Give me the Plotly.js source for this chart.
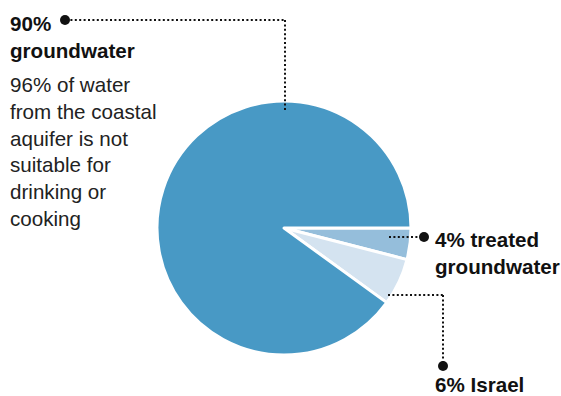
<!DOCTYPE html>
<html><head><meta charset="utf-8">
<script src="https://cdn.plot.ly/plotly-3.0.1.min.js"></script>
<style>html,body{margin:0;padding:0;background:#fff}#chart{width:561px;height:396px}</style>
</head><body><div id="chart"></div>
<script>
const labels = ["4% treated groundwater", "6% Israel", "90% groundwater"];
const values = [4, 6, 90];
const colors = ["#95bedb", "#d4e3f0", "#4899c5"];
const W = 561, H = 396;
const px = x => x / W, py = y => 1 - y / H;
const FONT = "Liberation Sans, Arial, Helvetica, sans-serif";

const trace = {
  type: "pie", labels: labels, values: values, sort: false,
  direction: "clockwise", rotation: 90,
  marker: {colors: colors, line: {color: "#ffffff", width: 3}},
  textinfo: "none", hoverinfo: "label", showlegend: false,
  domain: {x: [px(157), px(411)], y: [py(356), py(100)]}
};

const dotLine = {color: "#111", width: 2, dash: "2px,2.4px"};
function seg(x0, y0, x1, y1) {
  return {type: "line", xref: "paper", yref: "paper", x0: px(x0), y0: py(y0), x1: px(x1), y1: py(y1), line: dotLine};
}
function dot(x, y) {
  return {type: "circle", xref: "paper", yref: "paper", xsizemode: "pixel", ysizemode: "pixel",
    xanchor: px(x), yanchor: py(y), x0: -5, x1: 5, y0: -5, y1: 5,
    fillcolor: "#111", line: {width: 0}};
}
const shapes = [
  seg(66, 20, 285, 20), seg(285, 20, 285, 112), dot(65, 20),
  seg(389, 237, 423, 237), dot(424, 237),
  seg(388, 295, 443, 295), seg(443, 295, 443, 366), dot(443, 366)
];
function ann(x, y, text, bold) {
  return {xref: "paper", yref: "paper", x: px(x), y: py(y), xanchor: "left", yanchor: "top",
    align: "left", showarrow: false, text: text,
    font: {family: FONT, size: 20.6, color: "#111", weight: bold ? 700 : 400}};
}
const annotations = [
  ann(8, 10, "<b>90%</b><br><b>groundwater</b>", true),
  {xref: "paper", yref: "paper", x: px(8), y: py(71), xanchor: "left", yanchor: "top", align: "left",
   showarrow: false, text: "96% of water<br>from the coastal<br>aquifer is not<br>suitable for<br>drinking or<br>cooking",
   font: {family: FONT, size: 20.6, color: "#222"}},
  ann(433, 226, "<b>4% treated</b><br><b>groundwater</b>", true),
  ann(433, 371, "<b>6% Israel</b>", true)
];
Plotly.newPlot("chart", [trace], {
  width: W, height: H, margin: {l: 0, r: 0, t: 0, b: 0},
  paper_bgcolor: "#fff", plot_bgcolor: "#fff",
  shapes: shapes, annotations: annotations, showlegend: false
}, {displayModeBar: false, staticPlot: true});
</script></body></html>
